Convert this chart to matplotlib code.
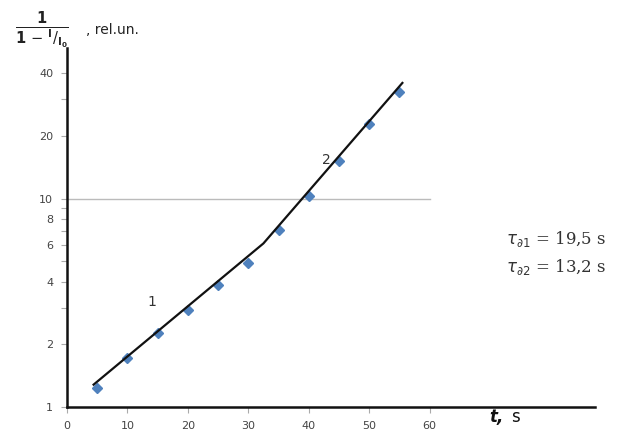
import matplotlib.pyplot as plt
from matplotlib.ticker import FixedLocator, NullFormatter, FixedFormatter

# measured points (blue diamonds)
t_pts = [5, 10, 15, 20, 25, 30, 35, 40, 45, 50, 55]
y_pts = [1.23, 1.71, 2.26, 2.93, 3.86, 4.94, 7.1, 10.3, 15.2, 22.9, 32.4]

# fitted lines (two segments)
t_fit = [4.4, 32.5, 55.5]
y_fit = [1.28, 6.1, 36.0]

xticks = [0, 10, 20, 30, 40, 50, 60]
ymajor = [1, 2, 4, 6, 8, 10, 20, 40]
yminor = [3, 5, 7, 9, 30]

fig = plt.figure(figsize=(6.17, 4.32), dpi=100)
ax = fig.add_axes([0.1086, 0.058, 0.855, 0.831])

ax.set_yscale('log')
ax.set_xlim(0, 87.3)
ax.set_ylim(1, 53)

ax.axhline(10, xmin=0, xmax=60 / 87.3, color='#bbbbbb', lw=1, zorder=1)

ax.plot(t_fit, y_fit, color='#111111', lw=1.6, zorder=3)
ax.plot(t_pts, y_pts, linestyle='none', marker='D', ms=5,
        color='#4f81bd', zorder=2)

ax.text(14, 3.2, '1', fontsize=10, color='#333333', ha='center', va='center')
ax.text(43, 15.4, '2', fontsize=10, color='#333333', ha='center', va='center')

for s in ['top', 'right']:
    ax.spines[s].set_visible(False)
for s in ['left', 'bottom']:
    ax.spines[s].set_linewidth(1.8)
    ax.spines[s].set_color('#111111')

ax.xaxis.set_major_locator(FixedLocator(xticks))
ax.set_xticklabels([str(v) for v in xticks])
ax.yaxis.set_major_locator(FixedLocator(ymajor))
ax.yaxis.set_major_formatter(FixedFormatter([str(v) for v in ymajor]))
ax.yaxis.set_minor_locator(FixedLocator(yminor))
ax.yaxis.set_minor_formatter(NullFormatter())
ax.tick_params(axis='both', which='both', colors='#aaaaaa', labelcolor='#444444',
               labelsize=8, length=4, width=0.8, pad=6)

# y label: 1 / (1 - I/I0), rel.un.
fig.text(0.024, 0.93,
         r'$\frac{\mathbf{1}}{\mathbf{1}\,-\,{}^{\mathbf{I}}/{}_{\mathbf{I_0}}}$',
         fontsize=15, ha='left', va='center', color='#222222')
fig.text(0.14, 0.93, ', rel.un.', fontsize=10, ha='left', va='center', color='#222222')

fig.text(0.793, 0.014, 't,', fontsize=12, fontweight='bold', fontstyle='italic',
         ha='left', va='bottom', color='#111111')
fig.text(0.828, 0.014, 's', fontsize=12, ha='left', va='bottom', color='#111111')

fig.text(0.82, 0.445, r'$\tau_{\partial 1}$ = 19,5 s', fontsize=12,
         family='DejaVu Serif', ha='left', va='center', color='#333333')
fig.text(0.82, 0.38, r'$\tau_{\partial 2}$ = 13,2 s', fontsize=12,
         family='DejaVu Serif', ha='left', va='center', color='#333333')

fig.savefig('out.png', dpi=100, facecolor='white')
